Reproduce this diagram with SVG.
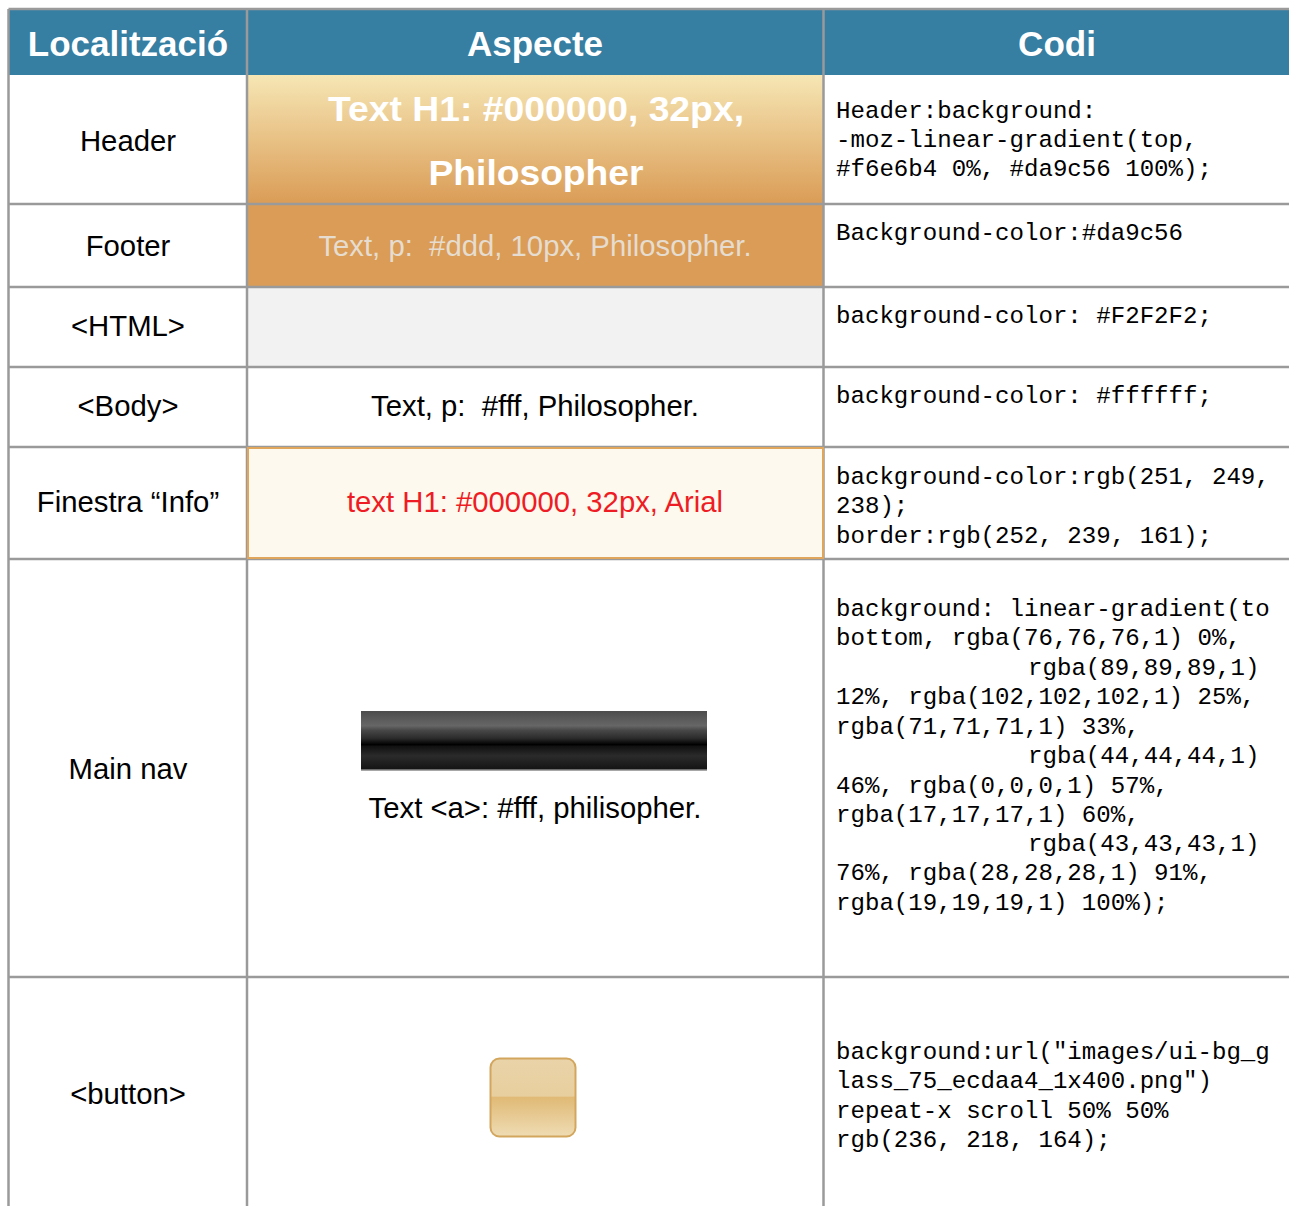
<svg xmlns="http://www.w3.org/2000/svg" width="1289" height="1206" viewBox="0 0 1289 1206">
<style>
.lbl{font-family:"Liberation Sans",Arial,sans-serif;font-size:29.3px;fill:#000;text-anchor:middle}
.hd{font-family:"Liberation Sans",Arial,sans-serif;font-size:35px;font-weight:bold;fill:#fff;text-anchor:middle}
.code{font-family:"Liberation Mono","Courier New",monospace;font-size:24.1px;fill:#000}
.grid{stroke:#9a9a9a;stroke-width:2.5;fill:none}
</style>
<defs>
<linearGradient id="gHead" x1="0" y1="0" x2="0" y2="1">
<stop offset="0" stop-color="#f6e6b4"/>
<stop offset="1" stop-color="#da9c56"/>
</linearGradient>
<linearGradient id="gNav" x1="0" y1="0" x2="0" y2="1">
<stop offset="0" stop-color="#4c4c4c"/>
<stop offset="0.12" stop-color="#595959"/>
<stop offset="0.25" stop-color="#666666"/>
<stop offset="0.33" stop-color="#474747"/>
<stop offset="0.46" stop-color="#2c2c2c"/>
<stop offset="0.57" stop-color="#000000"/>
<stop offset="0.60" stop-color="#111111"/>
<stop offset="0.76" stop-color="#2b2b2b"/>
<stop offset="0.91" stop-color="#1c1c1c"/>
<stop offset="1" stop-color="#131313"/>
</linearGradient>
<linearGradient id="gBtn" x1="0" y1="0" x2="0" y2="1">
<stop offset="0" stop-color="#e9d3a8"/>
<stop offset="0.48" stop-color="#e8cf9f"/>
<stop offset="0.5" stop-color="#e0ba76"/>
<stop offset="1" stop-color="#efdcb4"/>
</linearGradient>
</defs>

<g id="header-row">
<rect x="9" y="10" width="1280" height="65" fill="#367ea2"/>
<text class="hd" x="128" y="56">Localització</text>
<text class="hd" x="535" y="56">Aspecte</text>
<text class="hd" x="1057" y="56">Codi</text>
</g>

<g id="row-header">
<rect x="248" y="75" width="575" height="129" fill="url(#gHead)"/>
<text class="lbl" x="128" y="151">Header</text>
<text class="hd" x="536" y="121" font-size="40" textLength="416" lengthAdjust="spacingAndGlyphs">Text H1: #000000, 32px,</text>
<text class="hd" x="536" y="185" font-size="40" textLength="215" lengthAdjust="spacingAndGlyphs">Philosopher</text>
<text class="code" x="836" y="118">Header:background:</text>
<text class="code" x="836" y="147">-moz-linear-gradient(top,</text>
<text class="code" x="836" y="176">#f6e6b4 0%, #da9c56 100%);</text>
</g>

<g id="row-footer">
<rect x="248" y="204" width="575" height="83" fill="#da9c56"/>
<text class="lbl" x="128" y="256">Footer</text>
<text class="lbl" x="535" y="256" style="fill:#e6dccf" xml:space="preserve">Text, p:  #ddd, 10px, Philosopher.</text>
<text class="code" x="836" y="240">Background-color:#da9c56</text>
</g>

<g id="row-html">
<rect x="248" y="287" width="575" height="80" fill="#f2f2f2"/>
<text class="lbl" x="128" y="336">&lt;HTML&gt;</text>
<text class="code" x="836" y="323">background-color: #F2F2F2;</text>
</g>

<g id="row-body">
<text class="lbl" x="128" y="416">&lt;Body&gt;</text>
<text class="lbl" x="535" y="416" xml:space="preserve">Text, p:  #fff, Philosopher.</text>
<text class="code" x="836" y="403">background-color: #ffffff;</text>
</g>

<g id="grid">
<line class="grid" x1="8.5" y1="9" x2="1289" y2="9"/>
<line class="grid" x1="8.5" y1="9" x2="8.5" y2="1206"/>
<line class="grid" x1="247" y1="9" x2="247" y2="1206"/>
<line class="grid" x1="823.5" y1="9" x2="823.5" y2="1206"/>
<line class="grid" x1="8.5" y1="204" x2="1289" y2="204"/>
<line class="grid" x1="8.5" y1="287" x2="1289" y2="287"/>
<line class="grid" x1="8.5" y1="367" x2="1289" y2="367"/>
<line class="grid" x1="8.5" y1="447" x2="1289" y2="447"/>
<line class="grid" x1="8.5" y1="559" x2="1289" y2="559"/>
<line class="grid" x1="8.5" y1="977" x2="1289" y2="977"/>
</g>

<g id="row-info">
<rect x="248" y="448" width="575" height="110" fill="#fdf9ee" stroke="#dfa65c" stroke-width="2"/>
<text class="lbl" x="128" y="512">Finestra “Info”</text>
<text class="lbl" x="535" y="512" style="fill:#ee1c24">text H1: #000000, 32px, Arial</text>
<text class="code" x="836" y="484">background-color:rgb(251, 249,</text>
<text class="code" x="836" y="513">238);</text>
<text class="code" x="836" y="543">border:rgb(252, 239, 161);</text>
</g>

<g id="row-mainnav">
<text class="lbl" x="128" y="779">Main nav</text>
<rect x="361" y="711" width="346" height="59" fill="url(#gNav)"/>
<line x1="361" y1="770" x2="707" y2="770" stroke="#8a8a8a" stroke-width="1.5"/>
<text class="lbl" x="535" y="818">Text &lt;a&gt;: #fff, philisopher.</text>
<text class="code" x="836" y="616">background: linear-gradient(to</text>
<text class="code" x="836" y="645">bottom, rgba(76,76,76,1) 0%,</text>
<text class="code" x="1028" y="675">rgba(89,89,89,1)</text>
<text class="code" x="836" y="704">12%, rgba(102,102,102,1) 25%,</text>
<text class="code" x="836" y="734">rgba(71,71,71,1) 33%,</text>
<text class="code" x="1028" y="763">rgba(44,44,44,1)</text>
<text class="code" x="836" y="793">46%, rgba(0,0,0,1) 57%,</text>
<text class="code" x="836" y="822">rgba(17,17,17,1) 60%,</text>
<text class="code" x="1028" y="851">rgba(43,43,43,1)</text>
<text class="code" x="836" y="880">76%, rgba(28,28,28,1) 91%,</text>
<text class="code" x="836" y="910">rgba(19,19,19,1) 100%);</text>
</g>

<g id="row-button">
<text class="lbl" x="128" y="1104">&lt;button&gt;</text>
<rect x="490.5" y="1058.5" width="85" height="78" rx="9" fill="url(#gBtn)" stroke="#d3a65e" stroke-width="2"/>
<text class="code" x="836" y="1059">background:url("images/ui-bg_g</text>
<text class="code" x="836" y="1088">lass_75_ecdaa4_1x400.png")</text>
<text class="code" x="836" y="1118">repeat-x scroll 50% 50%</text>
<text class="code" x="836" y="1147">rgb(236, 218, 164);</text>
</g>
</svg>
